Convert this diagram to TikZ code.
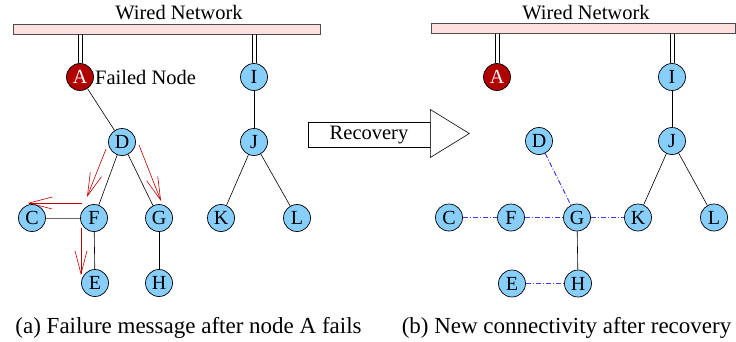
\documentclass[tikz,border=0pt]{standalone}
\usepackage{fontspec}
\setmainfont{Liberation Serif}
\usetikzlibrary{arrows.meta,calc}
\definecolor{nodeblue}{RGB}{135,206,250}
\definecolor{failred}{RGB}{176,0,0}
\definecolor{barpink}{RGB}{255,224,224}
\definecolor{linkblue}{RGB}{60,60,240}
\definecolor{msgred}{RGB}{190,0,0}
\begin{document}
\begin{tikzpicture}[x=1pt,y=-1pt,
  nd/.style={circle,draw=black,fill=nodeblue,minimum size=27pt,inner sep=0pt,line width=0.7pt,font=\fontsize{20}{20}\selectfont},
  dead/.style={nd,fill=failred,text=white},
  bar/.style={draw=black!70,fill=barpink,minimum height=10pt,inner sep=0pt,line width=0.8pt},
  wire/.style={draw=black,line width=0.7pt},
  edge/.style={draw=black,line width=0.6pt},
  newlink/.style={draw=linkblue,line width=1pt,dash pattern=on 5pt off 2pt on 1pt off 2pt},
  msg/.style={draw=msgred,line width=0.6pt,-{Straight Barb[length=23pt,width=12pt]}},
  lbl/.style={font=\fontsize{20.5}{24}\selectfont,inner sep=0pt},
  captext/.style={font=\fontsize{23}{26}\selectfont,inner sep=0pt,anchor=base}]

\useasboundingbox (0,0) rectangle (736,341);

% ---------- (a) failure message ----------
\node[bar,minimum width=307pt] (barL) at (166.5,29) {};
\node[lbl] (wnL) at (179,13) {Wired Network};

\node[dead] (A) at (80,77) {A};
\node[lbl,anchor=west] (failed) at (95,77) {Failed Node};
\node[nd] (I) at (254,77) {I};
\node[nd] (D) at (122,142) {D};
\node[nd] (J) at (254,142) {J};
\node[nd] (C) at (32,218) {C};
\node[nd] (F) at (94,218) {F};
\node[nd] (G) at (159,218) {G};
\node[nd] (K) at (221,218) {K};
\node[nd] (L) at (297,218) {L};
\node[nd] (E) at (95,283) {E};
\node[nd] (H) at (159,283) {H};

% wired uplinks: a pair of parallel rails
\foreach \n in {A,I}{
  \draw[wire] ([xshift=-2pt]\n.north) -- ([xshift=-2pt]\n.north |- barL.south);
  \draw[wire] ([xshift=2pt]\n.north) -- ([xshift=2pt]\n.north |- barL.south);
}
\draw[edge] (A) -- (D);
\draw[edge] (I) -- (J);
\draw[edge] (D) -- (F);
\draw[edge] (D) -- (G);
\draw[edge,draw=black!60] (C) -- (F);
\draw[edge] (F) -- (E);
\draw[edge] (G) -- (H);
\draw[edge] (J) -- (K);
\draw[edge] (J) -- (L);

% failure messages flooding from D
\draw[msg] ([shift={(-16,7)}]D.center) -- ([shift={(-7,-21)}]F.center);
\draw[msg] ([shift={(17,3)}]D.center) -- ([shift={(2,-17)}]G.center);
\draw[msg] ([shift={(-12,-15)}]F.center) -- ([shift={(-4,-15)}]C.center);
\draw[msg] ([shift={(-13,10)}]F.center) -- ([shift={(-14,-8)}]E.center);

\node[captext] (capA) at (188.5,333) {(a) Failure message after node A fails};

% ---------- recovery arrow ----------
\node[draw=black,fill=white,line width=0.6pt,minimum width=122pt,minimum height=25pt,inner sep=0pt,
      font=\fontsize{20.5}{24}\selectfont] (rec) at (369,134.5) {Recovery};
\draw[line width=0.6pt,fill=white] (rec.east) ++(0,-25) -- ++(39,24) -- ++(-39,24) -- cycle;

% ---------- (b) new connectivity ----------
\node[bar,minimum width=304pt] (barR) at (583,28.5) {};
\node[lbl] (wnR) at (586,13) {Wired Network};

\node[dead] (A2) at (497,77) {A};
\node[nd] (I2) at (672,77) {I};
\node[nd] (D2) at (539,141) {D};
\node[nd] (J2) at (672,141) {J};
\node[nd] (C2) at (449,217.5) {C};
\node[nd] (F2) at (511,217.5) {F};
\node[nd] (G2) at (577,217.5) {G};
\node[nd] (K2) at (638,217.5) {K};
\node[nd] (L2) at (714,217.5) {L};
\node[nd] (E2) at (512,283.5) {E};
\node[nd] (H2) at (578,283.5) {H};

\foreach \n in {A2,I2}{
  \draw[wire] ([xshift=-2pt]\n.north) -- ([xshift=-2pt]\n.north |- barR.south);
  \draw[wire] ([xshift=2pt]\n.north) -- ([xshift=2pt]\n.north |- barR.south);
}
\draw[edge] (I2) -- (J2);
\draw[edge] (J2) -- (K2);
\draw[edge] (J2) -- (L2);
\draw[edge] (G2) -- (H2);
\draw[newlink] (C2) -- (F2);
\draw[newlink] (F2) -- (G2);
\draw[newlink] (G2) -- (K2);
\draw[newlink] (D2) -- (G2);
\draw[newlink] (E2) -- (H2);

\node[captext] (capB) at (566.5,333) {(b) New connectivity after recovery};
\end{tikzpicture}
\end{document}
